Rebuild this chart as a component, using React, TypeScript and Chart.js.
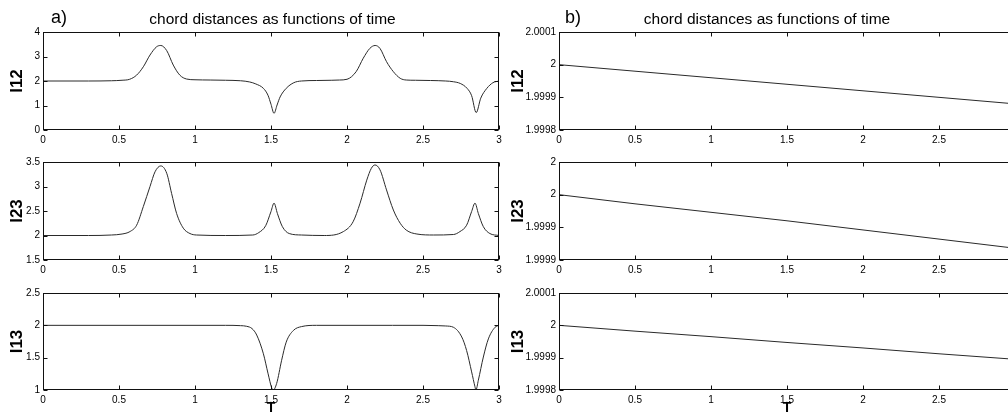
import React, { useEffect, useRef } from "react";
import { Chart, registerables } from "chart.js";
Chart.register(...registerables);

const FONT = "'Liberation Sans', Arial, Helvetica, sans-serif";
const TITLE = "chord distances as functions of time";

// ---- x axis (time T) ----
const xTicks = [0, 0.5, 1, 1.5, 2, 2.5, 3];
const xTickLabels = ["0", "0.5", "1", "1.5", "2", "2.5", "3"];

// ---- panel a) l12 ----
const tA12 = [0, 0.3, 0.45, 0.52, 0.57, 0.616, 0.66, 0.704, 0.748, 0.775, 0.814, 0.857, 0.9, 0.945, 1.0, 1.1, 1.2, 1.3, 1.36, 1.4, 1.45, 1.48, 1.5, 1.52, 1.54, 1.56, 1.6, 1.65, 1.7, 1.8, 1.9, 1.95, 2.0, 2.06, 2.107, 2.15, 2.185, 2.217, 2.26, 2.305, 2.35, 2.39, 2.45, 2.55, 2.65, 2.7, 2.745, 2.79, 2.82, 2.85, 2.88, 2.92, 2.96, 3.0];
const l12a = [2.0, 2.0, 2.01, 2.03, 2.07, 2.24, 2.58, 3.06, 3.4, 3.45, 3.24, 2.65, 2.24, 2.08, 2.05, 2.04, 2.03, 2.01, 1.96, 1.88, 1.7, 1.42, 1.05, 0.68, 1.02, 1.35, 1.7, 1.93, 2.0, 2.02, 2.03, 2.04, 2.07, 2.38, 2.93, 3.33, 3.45, 3.33, 2.79, 2.38, 2.11, 2.04, 2.03, 2.02, 2.0, 1.97, 1.9, 1.7, 1.4, 0.71, 1.3, 1.7, 1.93, 2.0];
const yTicksA12 = [0, 1, 2, 3, 4];
const yLabelsA12 = ["0", "1", "2", "3", "4"];

// ---- panel a) l23 ----
const tA23 = [0, 0.3, 0.45, 0.52, 0.572, 0.616, 0.66, 0.704, 0.737, 0.775, 0.814, 0.846, 0.879, 0.923, 0.967, 1.01, 1.2, 1.38, 1.42, 1.465, 1.5, 1.52, 1.542, 1.575, 1.62, 1.7, 1.85, 1.976, 2.04, 2.086, 2.13, 2.16, 2.184, 2.217, 2.26, 2.305, 2.35, 2.39, 2.46, 2.57, 2.7, 2.743, 2.787, 2.82, 2.842, 2.864, 2.897, 2.94, 3.0];
const l23a = [2.0, 2.0, 2.01, 2.03, 2.08, 2.21, 2.59, 3.0, 3.3, 3.42, 3.27, 2.86, 2.45, 2.15, 2.04, 2.01, 2.0, 2.01, 2.06, 2.2, 2.49, 2.66, 2.45, 2.18, 2.04, 2.01, 2.0, 2.08, 2.28, 2.66, 3.13, 3.37, 3.44, 3.34, 2.93, 2.52, 2.25, 2.11, 2.03, 2.01, 2.02, 2.08, 2.21, 2.49, 2.66, 2.45, 2.18, 2.04, 2.0];
const yTicksA23 = [1.5, 2, 2.5, 3, 3.5];
const yLabelsA23 = ["1.5", "2", "2.5", "3", "3.5"];

// ---- panel a) l13 ----
const tA13 = [0, 0.5, 1.0, 1.2, 1.3, 1.34, 1.375, 1.406, 1.45, 1.48, 1.505, 1.515, 1.537, 1.57, 1.6, 1.647, 1.7, 1.8, 2.0, 2.3, 2.5, 2.6, 2.65, 2.7, 2.755, 2.787, 2.82, 2.842, 2.848, 2.864, 2.897, 2.93, 2.974, 3.0];
const l13a = [2.0, 2.0, 2.0, 2.0, 1.995, 1.985, 1.95, 1.85, 1.56, 1.26, 1.03, 1.0, 1.1, 1.46, 1.74, 1.92, 1.98, 2.0, 2.0, 2.0, 2.0, 1.995, 1.99, 1.97, 1.82, 1.61, 1.28, 1.05, 1.0, 1.15, 1.51, 1.79, 1.97, 2.0];
const yTicksA13 = [1, 1.5, 2, 2.5];
const yLabelsA13 = ["1", "1.5", "2", "2.5"];

// ---- panel b) ----
const tB = [0, 0.5, 1, 1.5, 2, 2.5, 3];
const l12b = [2.0, 1.99998, 1.99996, 1.99994, 1.99992, 1.9999, 1.99988];
const l23b = [2.0, 1.999986, 1.999973, 1.99996, 1.999946, 1.999932, 1.999918];
const l13b = [2.0, 1.999982, 1.999965, 1.999947, 1.99993, 1.999912, 1.999895];
const yTicksB12 = [1.9998, 1.9999, 2.0, 2.0001];
const yLabelsB12 = ["1.9998", "1.9999", "2", "2.0001"];
const yTicksB23 = [1.9999, 1.99995, 2.0, 2.00005];
const yLabelsB23 = ["1.9999", "1.9999", "2", "2"];
const yTicksB13 = [1.9998, 1.9999, 2.0, 2.0001];
const yLabelsB13 = ["1.9998", "1.9999", "2", "2.0001"];

type Panel = {
  key: string;
  left: number;
  top: number;
  width: number;
  height: number;
  t: number[];
  v: number[];
  yTicks: number[];
  yLabels: string[];
  yTitle: string;
  yAxisW: number;
  rightW: number;
  padTop: number;
  xAxisH: number;
  title: boolean;
  xTitle: boolean;
  yTitlePad: number;
};

const framePlugin = {
  id: "frame",
  afterDatasetsDraw(chart: any) {
    const { ctx, chartArea, scales } = chart;
    const l = Math.round(chartArea.left) + 0.5;
    const r = Math.round(chartArea.right) - 0.5;
    const t = Math.round(chartArea.top) + 0.5;
    const b = Math.round(chartArea.bottom) - 0.5;
    const L = 4;
    ctx.save();
    ctx.strokeStyle = "#111";
    ctx.lineWidth = 1;
    ctx.strokeRect(l, t, r - l, b - t);
    ctx.beginPath();
    scales.x.ticks.forEach((tk: any) => {
      const px = Math.round(scales.x.getPixelForValue(tk.value)) + 0.5;
      ctx.moveTo(px, b);
      ctx.lineTo(px, b - L);
      ctx.moveTo(px, t);
      ctx.lineTo(px, t + L);
    });
    scales.y.ticks.forEach((tk: any) => {
      const py = Math.round(scales.y.getPixelForValue(tk.value)) + 0.5;
      ctx.moveTo(l, py);
      ctx.lineTo(l + L, py);
      ctx.moveTo(r, py);
      ctx.lineTo(r - L, py);
    });
    ctx.stroke();
    ctx.restore();
  },
};

function PanelChart({ p }: { p: Panel }) {
  const ref = useRef<HTMLCanvasElement | null>(null);
  useEffect(() => {
    if (!ref.current) return;
    const pts = p.t.map((x, i) => ({ x, y: p.v[i] }));
    const yMin = p.yTicks[0];
    const yMax = p.yTicks[p.yTicks.length - 1];
    const chart = new Chart(ref.current, {
      type: "line",
      data: {
        datasets: [
          {
            data: pts,
            xAxisID: "x",
            yAxisID: "y",
            borderColor: "#2a2a2a",
            borderWidth: 1,
            pointRadius: 0,
            fill: false,
            cubicInterpolationMode: "monotone",
          },
        ],
      },
      options: {
        animation: false,
        responsive: false,
        maintainAspectRatio: false,
        events: [],
        layout: { padding: { top: p.padTop, left: 0, right: 0, bottom: 0 } },
        plugins: {
          legend: { display: false },
          tooltip: { enabled: false },
          title: {
            display: p.title,
            text: TITLE,
            color: "#000",
            font: { family: FONT, size: 15.5, weight: "normal", lineHeight: 1.2 },
            padding: { top: 10.3, bottom: 3.1 },
          },
        },
        scales: {
          x: {
            type: "linear",
            position: "bottom",
            min: 0,
            max: 3,
            afterBuildTicks: (s: any) => {
              s.ticks = xTicks.map((v) => ({ value: v }));
            },
            afterFit: (s: any) => {
              s.height = p.xAxisH;
            },
            ticks: {
              callback: (_v: any, i: number) => xTickLabels[i],
              color: "#000",
              font: { family: FONT, size: 10 },
              padding: 4,
              maxRotation: 0,
              autoSkip: false,
            },
            grid: { display: false, drawTicks: false },
            border: { display: false },
            title: {
              display: p.xTitle,
              text: "T",
              color: "#000",
              font: { family: FONT, size: 14, weight: "bold", lineHeight: 1.2 },
              padding: { top: 0, bottom: 0 },
            },
          },
          y: {
            type: "linear",
            position: "left",
            min: yMin,
            max: yMax,
            afterBuildTicks: (s: any) => {
              s.ticks = p.yTicks.map((v) => ({ value: v }));
            },
            afterFit: (s: any) => {
              s.width = p.yAxisW;
            },
            ticks: {
              callback: (_v: any, i: number) => p.yLabels[i],
              color: "#000",
              font: { family: FONT, size: 10 },
              padding: 3,
              autoSkip: false,
            },
            grid: { display: false, drawTicks: false },
            border: { display: false },
            title: {
              display: true,
              text: p.yTitle,
              color: "#000",
              font: { family: FONT, size: 17, weight: "bold", lineHeight: 1.2 },
              padding: { top: p.yTitlePad, bottom: 0 },
            },
          },
          yr: {
            type: "linear",
            position: "right",
            min: 0,
            max: 1,
            afterFit: (s: any) => {
              s.width = p.rightW;
            },
            ticks: { display: false },
            grid: { display: false, drawTicks: false },
            border: { display: false },
          },
        },
      } as any,
      plugins: [framePlugin],
    });
    return () => chart.destroy();
  }, [p]);
  return (
    <canvas
      ref={ref}
      width={p.width}
      height={p.height}
      style={{ position: "absolute", left: p.left, top: p.top, width: p.width, height: p.height }}
    />
  );
}

const rows = [
  { top: 0, height: 150, padTop: 0, xAxisH: 20, title: true, xTitle: false },
  { top: 150, height: 130, padTop: 12, xAxisH: 20, title: false, xTitle: false },
  { top: 280, height: 137, padTop: 13, xAxisH: 27, title: false, xTitle: true },
];

const panels: Panel[] = [
  { key: "a12", left: 0, width: 545, yAxisW: 43, rightW: 46, yTitlePad: 6.8, t: tA12, v: l12a, yTicks: yTicksA12, yLabels: yLabelsA12, yTitle: "l12", ...rows[0] },
  { key: "a23", left: 0, width: 545, yAxisW: 43, rightW: 46, yTitlePad: 6.8, t: tA23, v: l23a, yTicks: yTicksA23, yLabels: yLabelsA23, yTitle: "l23", ...rows[1] },
  { key: "a13", left: 0, width: 545, yAxisW: 43, rightW: 46, yTitlePad: 6.8, t: tA13, v: l13a, yTicks: yTicksA13, yLabels: yLabelsA13, yTitle: "l13", ...rows[2] },
  { key: "b12", left: 500, width: 534, yAxisW: 59, rightW: 19, yTitlePad: 7.8, t: tB, v: l12b, yTicks: yTicksB12, yLabels: yLabelsB12, yTitle: "l12", ...rows[0] },
  { key: "b23", left: 500, width: 534, yAxisW: 59, rightW: 19, yTitlePad: 7.8, t: tB, v: l23b, yTicks: yTicksB23, yLabels: yLabelsB23, yTitle: "l23", ...rows[1] },
  { key: "b13", left: 500, width: 534, yAxisW: 59, rightW: 19, yTitlePad: 7.8, t: tB, v: l13b, yTicks: yTicksB13, yLabels: yLabelsB13, yTitle: "l13", ...rows[2] },
];

export default function App() {
  const labelStyle: React.CSSProperties = {
    position: "absolute",
    top: 7,
    fontFamily: FONT,
    fontSize: 18,
    lineHeight: "20px",
    color: "#000",
    whiteSpace: "nowrap",
  };
  return (
    <div
      style={{
        position: "fixed",
        left: 0,
        top: 0,
        width: 1008,
        height: 417,
        overflow: "hidden",
        background: "#fff",
      }}
    >
      {panels.map((p) => (
        <PanelChart key={p.key} p={p} />
      ))}
      <div style={{ ...labelStyle, left: 51 }}>a)</div>
      <div style={{ ...labelStyle, left: 565 }}>b)</div>
    </div>
  );
}
